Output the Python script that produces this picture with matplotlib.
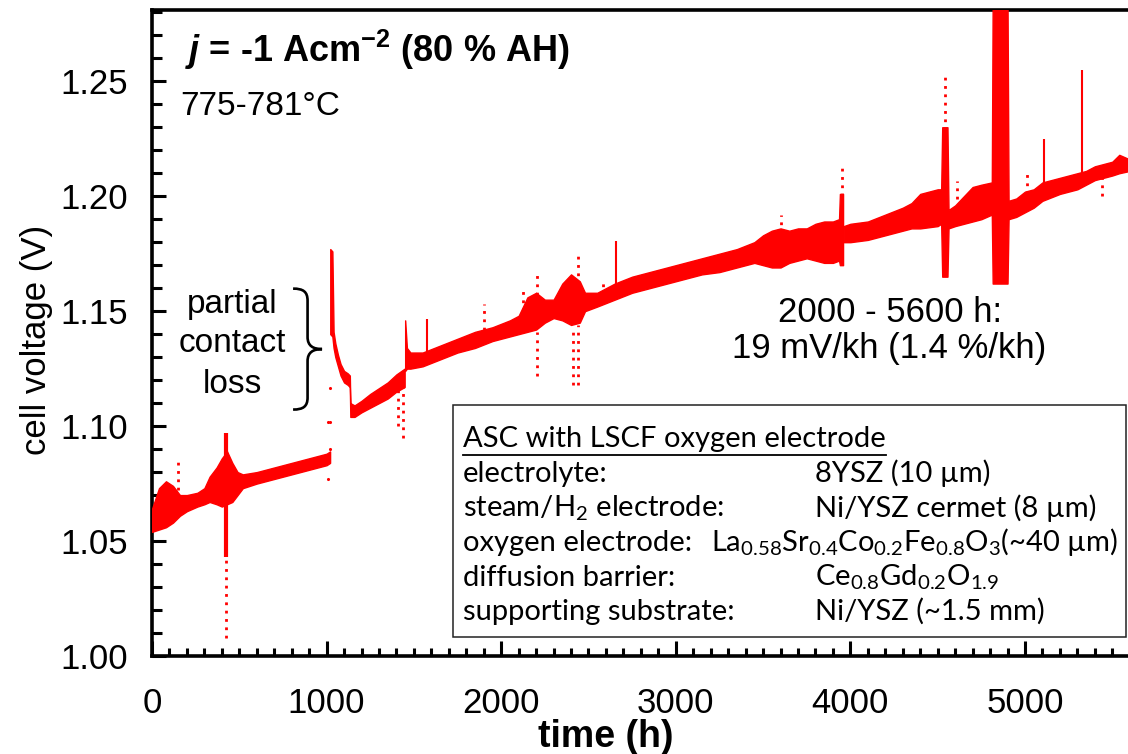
import numpy as np
import matplotlib
matplotlib.use("Agg")
import matplotlib.pyplot as plt
from matplotlib.path import Path
from matplotlib.patches import PathPatch, Rectangle
from matplotlib.ticker import MultipleLocator, FormatStrFormatter
from matplotlib.lines import Line2D

plt.rcParams['font.family'] = ['Liberation Sans', 'DejaVu Sans']
plt.rcParams['mathtext.fontset'] = 'custom'
plt.rcParams['mathtext.rm'] = 'Lato'
plt.rcParams['mathtext.it'] = 'Liberation Sans:italic:bold'
plt.rcParams['mathtext.bf'] = 'Liberation Sans:bold'

# ---------------- data ----------------
# envelope (lower / upper edge) of the dense voltage band, per test segment
seg_a_t  = [0, 40, 80, 120, 160, 200, 260, 300, 330, 370, 400, 430, 460, 490, 520, 600, 700, 800, 900, 1000, 1020]
seg_a_lo = [1.054, 1.055, 1.056, 1.058, 1.061, 1.063, 1.065, 1.066, 1.067, 1.066, 1.065, 1.066, 1.067, 1.070, 1.073, 1.075, 1.077, 1.079, 1.081, 1.083, 1.084]
seg_a_hi = [1.064, 1.073, 1.076, 1.074, 1.070, 1.070, 1.071, 1.073, 1.078, 1.082, 1.086, 1.089, 1.084, 1.080, 1.079, 1.080, 1.082, 1.084, 1.086, 1.088, 1.089]

seg_b_t  = [1021, 1033, 1040, 1050, 1065, 1080, 1100, 1120, 1133, 1136, 1160, 1200, 1250, 1300, 1350, 1400, 1447]
seg_b_lo = [1.140, 1.139, 1.134, 1.130, 1.126, 1.122, 1.119, 1.118, 1.117, 1.104, 1.104, 1.106, 1.108, 1.110, 1.112, 1.115, 1.117]
seg_b_hi = [1.177, 1.176, 1.141, 1.136, 1.131, 1.127, 1.124, 1.123, 1.122, 1.110, 1.109, 1.111, 1.114, 1.1165, 1.119, 1.1225, 1.125]

seg_c_t  = [1450, 1460, 1480, 1550, 1650, 1750, 1850, 1950, 2050, 2100, 2150, 2200, 2250, 2300, 2350, 2400, 2450, 2480,
            2550, 2650, 2750, 2850, 2950, 3050, 3150, 3250, 3350, 3450, 3500, 3550, 3600, 3650, 3700, 3750, 3800, 3850,
            3900, 3935, 3940, 3958]
seg_c_lo = [1.124, 1.125, 1.125, 1.126, 1.129, 1.132, 1.134, 1.137, 1.139, 1.140, 1.141, 1.142, 1.145, 1.147, 1.146, 1.144, 1.145, 1.150,
            1.152, 1.155, 1.158, 1.160, 1.162, 1.164, 1.166, 1.167, 1.169, 1.171, 1.170, 1.169, 1.169, 1.171, 1.172, 1.173, 1.172, 1.171,
            1.171, 1.172, 1.170, 1.170]
seg_c_hi = [1.146, 1.134, 1.132, 1.132, 1.135, 1.138, 1.141, 1.143, 1.146, 1.148, 1.156, 1.158, 1.155, 1.155, 1.162, 1.166, 1.163, 1.158,
            1.158, 1.162, 1.165, 1.167, 1.169, 1.171, 1.173, 1.175, 1.177, 1.180, 1.183, 1.185, 1.186, 1.185, 1.186, 1.186, 1.188, 1.189,
            1.189, 1.190, 1.201, 1.201]

seg_d_t  = [3962, 4000, 4100, 4200, 4300, 4350, 4400, 4500, 4520, 4526, 4556, 4562, 4600, 4650, 4700, 4750, 4810, 4815,
            4900, 4906, 4950, 5000, 5050, 5100, 5200, 5300, 5350, 5400, 5500, 5540, 5600]
seg_d_lo = [1.180, 1.180, 1.181, 1.183, 1.185, 1.186, 1.186, 1.187, 1.188, 1.165, 1.165, 1.186, 1.187, 1.188, 1.189, 1.190, 1.192, 1.162,
            1.162, 1.190, 1.191, 1.193, 1.195, 1.198, 1.201, 1.203, 1.205, 1.207, 1.209, 1.210, 1.211]
seg_d_hi = [1.187, 1.188, 1.189, 1.192, 1.195, 1.197, 1.201, 1.203, 1.203, 1.230, 1.230, 1.194, 1.196, 1.200, 1.204, 1.205, 1.206, 1.285,
            1.285, 1.198, 1.199, 1.202, 1.203, 1.206, 1.208, 1.210, 1.211, 1.213, 1.215, 1.218, 1.216]

# dense spikes (heavy), thin spikes and sparse (dotted) spikes
spike_dense_t  = [424]
spike_dense_lo = [1.043]
spike_dense_hi = [1.097]

spike_thin_t  = [1575, 2657, 5109, 5327]
spike_thin_lo = [1.128, 1.158, 1.199, 1.204]
spike_thin_hi = [1.1465, 1.1804, 1.225, 1.255]

spike_dot_t  = [150, 424, 1410, 1437, 1900, 2125, 2205, 2205, 2410, 2440, 2440, 2583, 3600, 3950, 4540, 4610, 5011, 5441]
spike_dot_lo = [1.072, 1.008, 1.100, 1.095, 1.142, 1.150, 1.157, 1.122, 1.118, 1.162, 1.118, 1.157, 1.184, 1.200, 1.229, 1.199, 1.201, 1.200]
spike_dot_hi = [1.085, 1.043, 1.116, 1.118, 1.153, 1.159, 1.166, 1.141, 1.143, 1.175, 1.144, 1.163, 1.192, 1.214, 1.2535, 1.2065, 1.2096, 1.208]

# isolated single readings
dots_t = [1010, 1010, 1022, 1022, 1022]
dots_v = [1.102, 1.077, 1.1165, 1.102, 1.090]

x_major = [0, 1000, 2000, 3000, 4000, 5000]
y_major = [1.00, 1.05, 1.10, 1.15, 1.20, 1.25]

# ---------------- figure ----------------
W, H = 1128, 754
fig = plt.figure(figsize=(W / 100, H / 100), dpi=100)
ax_l, ax_r, ax_t, ax_b = 152, 1128, 10, 656
ax = fig.add_axes([ax_l / W, (H - ax_b) / H, (ax_r - ax_l) / W, (ax_b - ax_t) / H])
ax.set_xlim(0, 5590)
ax.set_ylim(1.0, 1.281)

red = '#ff0000'
for t, lo, hi in [(seg_a_t, seg_a_lo, seg_a_hi), (seg_b_t, seg_b_lo, seg_b_hi),
                  (seg_c_t, seg_c_lo, seg_c_hi), (seg_d_t, seg_d_lo, seg_d_hi)]:
    ax.fill_between(t, lo, hi, color=red, lw=1.0, edgecolor=red, zorder=3)

ax.vlines(spike_dense_t, spike_dense_lo, spike_dense_hi, color=red, lw=3.0, zorder=3)
ax.vlines(spike_thin_t, spike_thin_lo, spike_thin_hi, color=red, lw=1.5, zorder=3)
ax.vlines(spike_dot_t, spike_dot_lo, spike_dot_hi, color=red, lw=2.0, linestyles=(0, (1, 2)), zorder=3)
ax.scatter(dots_t, dots_v, s=5, color=red, lw=0, zorder=3)

# axes styling
for s in ['left', 'bottom', 'top']:
    ax.spines[s].set_linewidth(2.6)
ax.spines['right'].set_visible(False)
ax.set_xticks(x_major)
ax.set_yticks(y_major)
ax.xaxis.set_minor_locator(MultipleLocator(100))
ax.yaxis.set_minor_locator(MultipleLocator(0.01))
ax.yaxis.set_major_formatter(FormatStrFormatter('%.2f'))
ax.tick_params(axis='both', which='both', direction='in', top=False, right=False, width=2.2, labelsize=25)
ax.tick_params(axis='y', which='major', length=10, pad=17)
ax.tick_params(axis='y', which='minor', length=7)
ax.tick_params(axis='x', which='major', length=11, pad=22)
ax.tick_params(axis='x', which='minor', length=6)

ax.set_ylabel('cell voltage (V)', fontsize=25)
ax.yaxis.set_label_coords(-0.101, 0.49)
ax.set_xlabel('time (h)', fontsize=27, fontweight='bold')
ax.xaxis.set_label_coords(0.465, -0.097)

def ax_px(x, y):
    return ((x - ax_l) / (ax_r - ax_l), (ax_b - y) / (ax_b - ax_t))

# annotations
ax.text(*ax_px(185, 62), r"$j$ = -1 Acm$^{\mathbf{-2}}$ (80 % AH)", fontsize=26, fontweight='bold',
        transform=ax.transAxes, ha='left', va='baseline')
ax.text(*ax_px(180, 115), "775-781°C", fontsize=24, transform=ax.transAxes, ha='left', va='baseline')
for word, yb in [("partial", 313), ("contact", 352), ("loss", 393)]:
    ax.text(*ax_px(232, yb), word, fontsize=24, transform=ax.transAxes, ha='center', va='baseline')
ax.text(*ax_px(890, 322), "2000 - 5600 h:", fontsize=25, transform=ax.transAxes, ha='center', va='baseline')
ax.text(*ax_px(889, 358), "19 mV/kh (1.4 %/kh)", fontsize=25, transform=ax.transAxes, ha='center', va='baseline')

# curly brace
x0, x1 = 808, 974       # brace ends / tip (h)
yc, hh = 1.1335, 0.0263  # brace centre / half height (V)
nx = [0, 0.35, 0.5, 0.5, 0.5, 0.5, 0.7, 1, 0.7, 0.5, 0.5, 0.5, 0.5, 0.35, 0]
ny = [1, 1, 0.95, 0.8, 0.2, 0.05, 0, 0, 0, -0.05, -0.2, -0.8, -0.95, -1, -1]
codes = [Path.MOVETO, Path.CURVE4, Path.CURVE4, Path.CURVE4, Path.LINETO, Path.CURVE4, Path.CURVE4, Path.CURVE4,
         Path.CURVE4, Path.CURVE4, Path.CURVE4, Path.LINETO, Path.CURVE4, Path.CURVE4, Path.CURVE4]
verts = [(x0 + a * (x1 - x0), yc + b * hh) for a, b in zip(nx, ny)]
ax.add_patch(PathPatch(Path(verts, codes), fill=False, lw=1.9, edgecolor='black', zorder=4))

# info box
bx0, by0 = ax_px(453, 637)
bx1, by1 = ax_px(1126, 405)
ax.add_patch(Rectangle((bx0, by0), bx1 - bx0, by1 - by0, transform=ax.transAxes, facecolor='white',
                       edgecolor='#222222', lw=1.1, zorder=5))
box_font = ['Lato', 'DejaVu Sans']
bfs = 21
left_lines = ["electrolyte:", "steam/H$_2$ electrode:", "oxygen electrode:", "diffusion barrier:", "supporting substrate:"]
right_lines = ["8YSZ (10 µm)", "Ni/YSZ cermet (8 µm)", "La$_{0.58}$Sr$_{0.4}$Co$_{0.2}$Fe$_{0.8}$O$_3$(~40 µm)",
               "Ce$_{0.8}$Gd$_{0.2}$O$_{1.9}$", "Ni/YSZ (~1.5 mm)"]
right_x = [815, 815, 711, 815, 815]
baselines = [482, 516.5, 551, 585.5, 620]
title = ax.text(*ax_px(463, 447), "ASC with LSCF oxygen electrode", fontsize=bfs, family=box_font,
                transform=ax.transAxes, ha='left', va='baseline', zorder=6)
for s, yb in zip(left_lines, baselines):
    ax.text(*ax_px(463, yb), s, fontsize=bfs, family=box_font, transform=ax.transAxes,
            ha='left', va='baseline', zorder=6)
for s, xr, yb in zip(right_lines, right_x, baselines):
    ax.text(*ax_px(xr, yb), s, fontsize=bfs, family=box_font, transform=ax.transAxes,
            ha='left', va='baseline', zorder=6)

# underline of box title
fig.canvas.draw()
bb = title.get_window_extent()
uy = 1 - 455 / H
fig.add_artist(Line2D([bb.x0 / W, bb.x1 / W], [uy, uy], transform=fig.transFigure, color='black', lw=1.3, zorder=7))

fig.savefig('out.png', dpi=100)
